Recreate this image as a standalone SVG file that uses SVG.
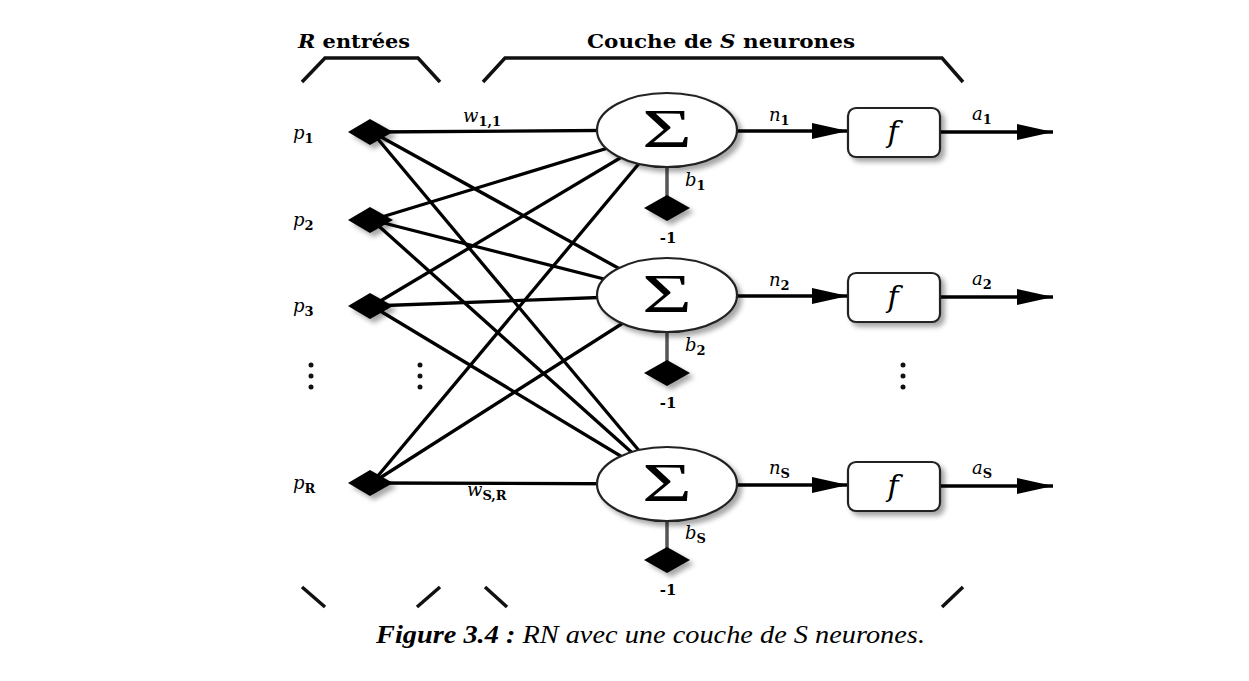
<svg xmlns="http://www.w3.org/2000/svg" width="1249" height="681" viewBox="0 0 1249 681">
<defs>
<filter id="sh" x="-30%" y="-30%" width="170%" height="170%">
<feDropShadow dx="4" dy="4" stdDeviation="2.5" flood-color="#000" flood-opacity="0.35"/>
</filter>
<marker id="arr" markerWidth="36" markerHeight="16" refX="36" refY="8" orient="auto" markerUnits="userSpaceOnUse">
<path d="M0,0 L36,8 L0,16 Z" fill="#000"/>
</marker>
</defs>
<style>
.w{stroke:#000;stroke-width:3.3;fill:none}
.br{stroke:#111;stroke-width:3.5;fill:none}
.sum{fill:#fff;stroke:#222;stroke-width:2.2}
.dia{fill:#000}
.bias{stroke:#555;stroke-width:3.5}
.box{fill:#fff;stroke:#222;stroke-width:2.2}
.lbl{font-family:"DejaVu Serif","Liberation Serif",serif;font-style:italic;font-size:18px;fill:#000}
.sub{font-family:"DejaVu Serif","Liberation Serif",serif;font-style:normal;font-size:13px;font-weight:bold}
.hd{font-family:"DejaVu Serif","Liberation Serif",serif;font-size:18px;font-weight:bold;fill:#000}
.sig{font-family:"Liberation Serif",serif;font-size:54px;fill:#000}
.fx{font-family:"DejaVu Serif","Liberation Serif",serif;font-style:italic;font-size:30px;fill:#000}
.m1{font-family:"DejaVu Serif","Liberation Serif",serif;font-size:15px;font-weight:bold;fill:#000}
.dot{fill:#111}
.cap{font-family:"Liberation Serif",serif;font-style:italic;font-size:26px;fill:#000}
</style>
<rect width="1249" height="681" fill="#fff"/>

<g id="brackets">
<path class="br" d="M302,82 L325,58 L418,58 L440,82"/>
<path class="br" d="M483,82 L505,58 L942,58 L963,82"/>
<path class="br" d="M302,587 L325,607"/>
<path class="br" d="M417,607 L440,587"/>
<path class="br" d="M485,587 L507,607"/>
<path class="br" d="M942,607 L963,587"/>
<text class="hd" x="298" y="48" textLength="112" lengthAdjust="spacingAndGlyphs"><tspan font-style="italic">R</tspan> entrées</text>
<text class="hd" x="587" y="48" textLength="268" lengthAdjust="spacingAndGlyphs">Couche de <tspan font-style="italic">S</tspan> neurones</text>
</g>

<g id="connectors">
<line class="w" x1="372" y1="132" x2="667" y2="130"/>
<line class="w" x1="372" y1="132" x2="667" y2="295"/>
<line class="w" x1="372" y1="132" x2="667" y2="484"/>
<line class="w" x1="372" y1="220" x2="667" y2="130"/>
<line class="w" x1="372" y1="220" x2="667" y2="295"/>
<line class="w" x1="372" y1="220" x2="667" y2="484"/>
<line class="w" x1="372" y1="306" x2="667" y2="130"/>
<line class="w" x1="372" y1="306" x2="667" y2="295"/>
<line class="w" x1="372" y1="306" x2="667" y2="484"/>
<line class="w" x1="372" y1="483" x2="667" y2="130"/>
<line class="w" x1="372" y1="483" x2="667" y2="295"/>
<line class="w" x1="372" y1="483" x2="667" y2="484"/>
<line class="bias" x1="667" y1="160" x2="667" y2="205"/>
<line class="bias" x1="667" y1="325" x2="667" y2="370"/>
<line class="bias" x1="667" y1="514" x2="667" y2="557"/>
<line class="w" x1="736" y1="131" x2="848" y2="131" marker-end="url(#arr)"/>
<line class="w" x1="940" y1="132" x2="1053" y2="132" marker-end="url(#arr)"/>
<line class="w" x1="736" y1="296" x2="848" y2="296" marker-end="url(#arr)"/>
<line class="w" x1="940" y1="297" x2="1053" y2="297" marker-end="url(#arr)"/>
<line class="w" x1="736" y1="485" x2="848" y2="485" marker-end="url(#arr)"/>
<line class="w" x1="940" y1="486" x2="1053" y2="486" marker-end="url(#arr)"/>
</g>

<g id="p1"><path class="dia" filter="url(#sh)" d="M348,132 L370,119 L393,132 L370,145 Z"/><text class="lbl" x="293" y="139">p<tspan class="sub" dy="4">1</tspan></text></g>
<g id="p2"><path class="dia" filter="url(#sh)" d="M348,220 L370,207 L393,220 L370,233 Z"/><text class="lbl" x="293" y="226">p<tspan class="sub" dy="4">2</tspan></text></g>
<g id="p3"><path class="dia" filter="url(#sh)" d="M348,306 L370,293 L393,306 L370,319 Z"/><text class="lbl" x="293" y="312">p<tspan class="sub" dy="4">3</tspan></text></g>
<g id="pR"><path class="dia" filter="url(#sh)" d="M348,483 L370,470 L393,483 L370,496 Z"/><text class="lbl" x="293" y="489">p<tspan class="sub" dy="4" font-style="italic">R</tspan></text></g>

<g id="dots">
<circle class="dot" cx="311" cy="365" r="2.5"/><circle class="dot" cx="311" cy="376" r="2.5"/><circle class="dot" cx="311" cy="387" r="2.5"/>
<circle class="dot" cx="420" cy="365" r="2.5"/><circle class="dot" cx="420" cy="376" r="2.5"/><circle class="dot" cx="420" cy="387" r="2.5"/>
<circle class="dot" cx="903" cy="365" r="2.5"/><circle class="dot" cx="903" cy="376" r="2.5"/><circle class="dot" cx="903" cy="387" r="2.5"/>
</g>

<g id="weights">
<text class="lbl" x="463" y="122">w<tspan class="sub" dy="4">1,1</tspan></text>
<text class="lbl" x="467" y="496">w<tspan class="sub" dy="4" font-style="italic">S,R</tspan></text>
</g>

<g id="sum1">
<ellipse class="sum" filter="url(#sh)" cx="667" cy="130" rx="70" ry="37"/>
<text class="sig" x="667" y="147" text-anchor="middle" textLength="50" lengthAdjust="spacingAndGlyphs">Σ</text>
<path class="dia" filter="url(#sh)" d="M644,208 L667,195 L690,208 L667,221 Z"/>
<text class="lbl" x="685" y="186">b<tspan class="sub" dy="4">1</tspan></text>
<text class="m1" x="668" y="243" text-anchor="middle">-1</text>
</g>
<g id="sum2">
<ellipse class="sum" filter="url(#sh)" cx="667" cy="295" rx="70" ry="37"/>
<text class="sig" x="667" y="312" text-anchor="middle" textLength="50" lengthAdjust="spacingAndGlyphs">Σ</text>
<path class="dia" filter="url(#sh)" d="M644,373 L667,360 L690,373 L667,386 Z"/>
<text class="lbl" x="685" y="351">b<tspan class="sub" dy="4">2</tspan></text>
<text class="m1" x="668" y="408" text-anchor="middle">-1</text>
</g>
<g id="sum3">
<ellipse class="sum" filter="url(#sh)" cx="667" cy="484" rx="70" ry="37"/>
<text class="sig" x="667" y="501" text-anchor="middle" textLength="50" lengthAdjust="spacingAndGlyphs">Σ</text>
<path class="dia" filter="url(#sh)" d="M644,560 L667,547 L690,560 L667,573 Z"/>
<text class="lbl" x="685" y="539">b<tspan class="sub" dy="4" font-style="italic">S</tspan></text>
<text class="m1" x="668" y="595" text-anchor="middle">-1</text>
</g>

<g id="f1"><rect class="box" filter="url(#sh)" x="848" y="108" width="92" height="49" rx="8"/><text class="fx" x="893" y="142" text-anchor="middle">f</text></g>
<g id="f2"><rect class="box" filter="url(#sh)" x="848" y="273" width="92" height="49" rx="8"/><text class="fx" x="893" y="307" text-anchor="middle">f</text></g>
<g id="f3"><rect class="box" filter="url(#sh)" x="848" y="462" width="92" height="49" rx="8"/><text class="fx" x="893" y="496" text-anchor="middle">f</text></g>

<g id="signals">
<text class="lbl" x="769" y="121">n<tspan class="sub" dy="4">1</tspan></text>
<text class="lbl" x="769" y="286">n<tspan class="sub" dy="4">2</tspan></text>
<text class="lbl" x="769" y="474">n<tspan class="sub" dy="4" font-style="italic">S</tspan></text>
<text class="lbl" x="972" y="120">a<tspan class="sub" dy="4">1</tspan></text>
<text class="lbl" x="972" y="285">a<tspan class="sub" dy="4">2</tspan></text>
<text class="lbl" x="972" y="474">a<tspan class="sub" dy="4" font-style="italic">S</tspan></text>
</g>

<text class="cap" x="376" y="643" textLength="549" lengthAdjust="spacingAndGlyphs"><tspan font-weight="bold">Figure 3.4 :</tspan> RN avec une couche de S neurones.</text>
</svg>
